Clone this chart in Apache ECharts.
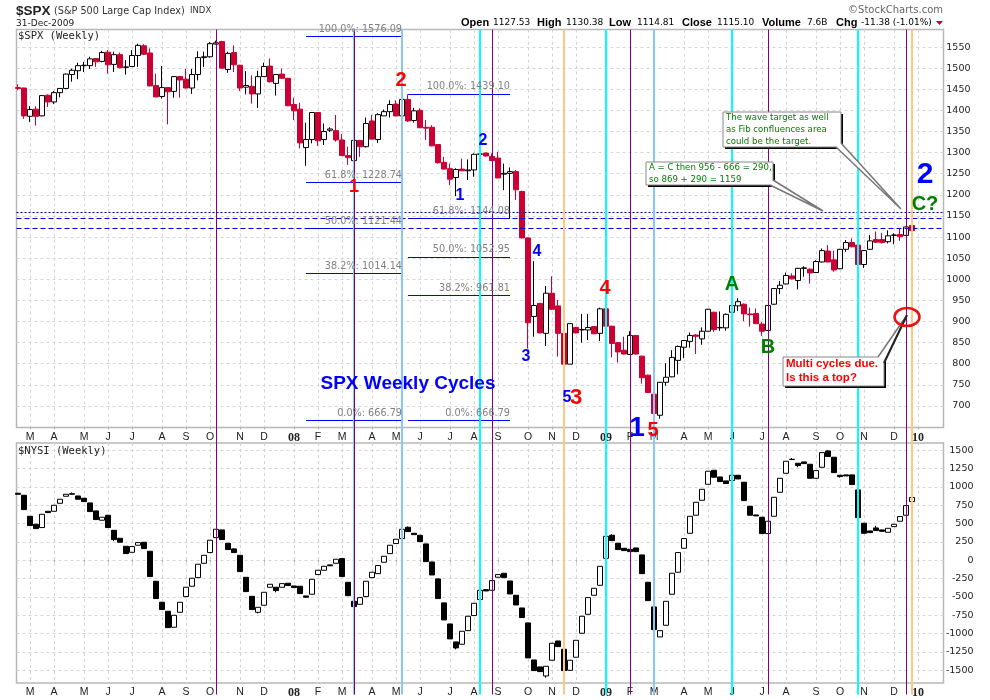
<!DOCTYPE html>
<html>
<head>
<meta charset="utf-8">
<title>$SPX weekly cycles</title>
<script src="https://cdn.jsdelivr.net/npm/echarts@6/dist/echarts.min.js"></script>
<style>
  html, body { margin: 0; padding: 0; background: #fff; }
  #chart { width: 990px; height: 700px; }
</style>
</head>
<body>
<div id="chart"></div>
<script>
// weekly bars, index 0 = Feb 2007, index 149 = 31-Dec-2009
const spxOpen = [
  1454,1453,1386,1403,1387,1436,1420,1442,1452,1485,1494,1506,1506,1523,1516,1538,1509,1532,1502,1504,
  1530,1553,1536,1459,1433,1454,1445,1480,1474,1453,1485,1525,1527,1557,1563,1497,1537,1507,1455,1457,
  1439,1480,1505,1464,1486,1476,1414,1403,1312,1331,1395,1331,1353,1352,1330,1293,1281,1329,1314,1375,
  1331,1387,1397,1415,1387,1426,1376,1400,1360,1360,1319,1277,1262,1241,1261,1257,1259,1296,1299,1291,
  1287,1249,1251,1255,1208,1098,912,943,872,967,937,872,799,886,880,880,888,872,930,889,
  850,832,822,867,818,773,728,678,756,769,808,839,853,868,859,877,922,885,885,922,
  937,941,918,919,894,879,941,978,989,1008,997,1026,1024,1016,1041,1067,1046,1025,1071,1087,
  1081,1035,1071,1094,1094,1089,1104,1106,1104,1127.53
];
const spxClose = [
  1452,1387,1402,1386,1435,1420,1442,1452,1486,1495,1506,1507,1522,1515,1537,1508,1532,1501,1503,1530,
  1554,1533,1458,1432,1454,1444,1480,1472,1453,1485,1525,1527,1558,1560,1500,1535,1508,1453,1459,1439,
  1480,1504,1468,1485,1476,1411,1399,1323,1331,1395,1328,1350,1356,1330,1293,1288,1329,1314,1369,1332,
  1390,1397,1414,1387,1426,1375,1399,1359,1358,1316,1276,1261,1237,1260,1257,1259,1296,1297,1292,1281,
  1240,1251,1255,1212,1098,897,938,873,967,929,872,799,895,873,881,886,871,930,889,848,
  828,823,867,823,767,732,682,756,768,815,841,855,867,865,877,929,881,886,917,938,
  947,918,916,895,877,938,978,986,1009,1001,1026,1027,1015,1042,1068,1041,1022,1071,1087,1077,
  1035,1068,1091,1088,1087,1103,1105,1101,1124,1115.10
];
const spxLow = [
  1448,1380,1373,1364,1386,1408,1415,1431,1451,1468,1474,1491,1498,1503,1514,1487,1491,1500,1485,1503,
  1503,1532,1457,1431,1428,1367,1430,1430,1452,1439,1471,1503,1525,1556,1499,1489,1491,1446,1438,1416,
  1406,1480,1466,1435,1476,1410,1377,1310,1269,1322,1316,1318,1349,1326,1292,1271,1281,1290,1312,1331,
  1323,1387,1383,1386,1386,1373,1371,1358,1330,1315,1274,1260,1223,1197,1256,1235,1243,1295,1291,1280,
  1240,1211,1144,1188,1097,836,864,872,842,928,817,799,799,872,850,856,870,854,888,815,
  803,822,821,822,753,731,681,670,748,768,775,813,838,823,845,876,875,878,878,910,
  925,901,888,894,866,878,940,965,988,1000,976,1006,990,1015,1040,1040,1018,1024,1065,1076,
  1034,1027,1070,1086,1085,1085,1083,1091,1103,1114.81
];
const spxHigh = [
  1462,1454,1410,1410,1436,1438,1446,1452,1487,1499,1513,1515,1527,1524,1541,1543,1539,1537,1519,1543,
  1558,1557,1547,1487,1505,1454,1480,1481,1498,1498,1540,1539,1562,1565,1565,1539,1554,1508,1493,1483,
  1494,1513,1523,1486,1499,1477,1430,1418,1371,1395,1395,1369,1360,1389,1344,1314,1330,1330,1383,1389,
  1393,1402,1424,1424,1427,1438,1406,1405,1377,1365,1320,1290,1274,1263,1286,1284,1298,1298,1300,1298,
  1302,1274,1265,1259,1210,1099,1043,944,984,1007,951,873,895,887,918,918,889,933,933,890,
  851,864,877,868,819,774,729,757,801,832,843,856,874,870,886,930,923,924,919,939,
  955,943,933,931,899,939,979,996,1016,1014,1027,1031,1026,1045,1073,1081,1068,1072,1093,1097,
  1082,1069,1105,1113,1110,1116,1109,1120,1125,1130.38
];

const nysiOpen = [
  914,887,600,491,446,668,668,777,873,900,877,846,782,673,546,614,409,300,191,109,
  205,246,123,-286,-572,-695,-913,-709,-495,-354,-236,-41,105,309,414,232,155,68,-232,-491,
  -709,-613,-368,-368,-368,-313,-350,-354,-486,-463,-195,-136,-63,-41,23,-300,-559,-600,-495,-236,
  -182,-27,91,228,296,450,368,341,223,-23,-254,-581,-868,-1113,-1145,-959,-754,-536,-400,-409,
  -231,-177,-282,-477,-650,-854,-1359,-1454,-1577,-1363,-1100,-1213,-1500,-1322,-995,-736,-477,-341,27,341,
  232,164,150,168,73,-300,-636,-1045,-886,-463,-163,164,368,614,818,1036,1227,1136,1082,1086,
  1159,1064,736,618,587,364,600,927,1186,1373,1323,1341,1309,1118,1268,1491,1405,1159,1164,1164,
  959,505,400,441,414,382,459,532,614,800
];
const nysiClose = [
  900,691,473,432,627,650,750,832,900,909,832,800,664,555,587,446,282,246,91,187,
  241,159,-222,-522,-672,-918,-750,-572,-368,-245,-54,68,273,423,282,146,105,-154,-427,-672,
  -641,-436,-327,-413,-318,-345,-372,-454,-504,-259,-136,-82,-75,14,-222,-482,-632,-509,-286,-163,
  -72,55,205,287,423,391,350,255,-18,-200,-522,-813,-1072,-1195,-968,-763,-586,-409,-418,-277,
  -195,-236,-459,-609,-781,-1331,-1504,-1518,-1445,-1131,-1177,-1504,-1363,-1091,-763,-509,-382,-82,327,268,
  146,132,118,118,-182,-550,-945,-959,-559,-177,105,296,600,791,968,1214,1132,1073,1046,1159,
  1109,814,614,605,364,532,859,1118,1350,1377,1291,1318,1118,1223,1468,1414,1195,1141,1150,1032,
  582,368,377,405,395,436,491,596,746,855
];
// the few NYSI wicks that poke out of the bodies
const nysiWickHigh = { 9: 925, 36: 165, 65: 460, 99: 355, 129: 1395, 135: 1505, 143: 470 };
const nysiWickLow = { 16: 262, 40: -725, 43: -436, 73: -1215, 88: -1600, 130: 1268, 137: 1127 };

const monthTicks = [2,6,11,15,19,24,28,32,37,41,46,50,54,59,63,67,72,76,80,85,89,93,98,102,106,111,115,119,124,128,133,137,141,146,150];
const monthLabels = ['M','A','M','J','J','A','S','O','N','D','08','F','M','A','M','J','J','A','S','O','N','D','09','F','M','A','M','J','J','A','S','O','N','D','10'];
const spxTicks = [700,750,800,850,900,950,1000,1050,1100,1150,1200,1250,1300,1350,1400,1450,1500,1550];
const nysiTicks = [-1500,-1250,-1000,-750,-500,-250,0,250,500,750,1000,1250,1500];

// fib levels: price, percent text
const fibLeftLevels = [[1576.09,'100.0%'],[1228.74,'61.8%'],[1121.44,'50.0%'],[1014.14,'38.2%'],[666.79,'0.0%']];
const fibRightLevels = [[1439.10,'100.0%'],[1144.08,'61.8%'],[1052.95,'50.0%'],[961.81,'38.2%'],[666.79,'0.0%']];
const targetLevels = [1159, 1144, 1121];

// cycle dates (week index)
const blueCycles = [56, 64, 106];
const cyanCycles = [77, 98, 119, 140];
const purpleCycles = [33, 56, 79, 102, 125, 148];
const orangeCycles = [91, 149];

const MONO = '"DejaVu Sans Mono", monospace';
const SANS = '"DejaVu Sans", sans-serif';
const ARIAL = '"Liberation Sans", Arial, sans-serif';
const X_MIN = -0.25;
const X_MAX = 154.25;

const bars = spxOpen.map((o, i) => [i, o, spxClose[i], spxLow[i], spxHigh[i]]);
const nysiBars = nysiOpen.map((o, i) => {
  const c = nysiClose[i];
  const lo = i in nysiWickLow ? nysiWickLow[i] : Math.min(o, c);
  const hi = i in nysiWickHigh ? nysiWickHigh[i] : Math.max(o, c);
  return [i, o, c, lo, hi];
});

function fibSegments(levels, from, to) {
  return levels.map(l => [
    { name: l[1] + ': ' + l[0].toFixed(2), coord: [from, l[0]] },
    { coord: [to, l[0]] }
  ]);
}

function cycleLines(list, color, width) {
  return list.map(i => ({ xAxis: i, lineStyle: { color: color, width: width, type: 'solid' } }));
}

function xAxisFor(gridIndex) {
  return {
    type: 'value', gridIndex: gridIndex, min: X_MIN, max: X_MAX,
    axisLine: { show: false },
    axisTick: { show: true, length: 2, lineStyle: { color: '#aaa' }, customValues: monthTicks },
    splitLine: { show: true, lineStyle: { color: '#d4d4d4', type: [3, 3] } },
    axisLabel: {
      customValues: monthTicks, margin: 4, fontFamily: ARIAL, fontSize: 10.5, color: '#222',
      formatter: v => {
        const t = monthLabels[monthTicks.indexOf(v)];
        return /\d/.test(t) ? '{y|' + t + '}' : t;
      },
      rich: { y: { fontFamily: '"Liberation Serif", serif', fontWeight: 'bold', fontSize: 12, color: '#222' } }
    }
  };
}

function yAxisFor(gridIndex, min, max, ticks, margin) {
  return {
    type: 'value', gridIndex: gridIndex, position: 'right', min: min, max: max,
    axisLine: { show: false },
    axisTick: { show: false, customValues: ticks },
    splitLine: { show: true, lineStyle: { color: '#d4d4d4', type: [3, 3] } },
    axisLabel: { customValues: ticks, align: 'right', margin: margin, fontFamily: SANS, fontSize: 9.5, color: '#222', formatter: v => String(v) }
  };
}

// header and annotation text
function txt(x, y, text, font, size, color, extra) {
  return {
    type: 'text', x: x, y: y, z: 100,
    style: Object.assign({ text: text, fontFamily: font, fontSize: size, fill: color, textVerticalAlign: 'middle' }, extra || {})
  };
}
function bold(x, y, text, size, color) {
  return txt(x, y, text, ARIAL, size, color, { fontWeight: 'bold', textAlign: 'center' });
}
function callout(box, tip, lines, font, size, color, weight) {
  const [l, t, r, b] = box;
  const els = [
    { type: 'rect', z: 90, shape: { x: l + 2, y: t + 2, width: r - l, height: b - t }, style: { fill: '#000' } },
    { type: 'rect', z: 91, shape: { x: l, y: t, width: r - l, height: b - t }, style: { fill: '#fff', stroke: '#888', lineWidth: 1 } },
    { type: 'polygon', z: 92, shape: { points: tip }, style: { fill: '#fff' } },
    { type: 'polyline', z: 93, shape: { points: tip }, style: { stroke: '#777', lineWidth: 1.5, fill: 'none' } }
  ];
  lines.forEach(ln => els.push(txt(l + 3, ln[0], ln[1], font, size, color, { fontWeight: weight })));
  return els;
}

const option = {
  animation: false,
  backgroundColor: '#fff',
  grid: [
    { left: 16.5, width: 927, top: 29.5, height: 398, show: true, borderColor: '#b8b8b8', borderWidth: 1.5, backgroundColor: 'transparent' },
    { left: 16.5, width: 927, top: 443, height: 240, show: true, borderColor: '#b8b8b8', borderWidth: 1.5, backgroundColor: 'transparent' },
    { left: 16.5, width: 927, top: 29.5, height: 665, show: false }
  ],
  xAxis: [
    xAxisFor(0),
    xAxisFor(1),
    { type: 'value', gridIndex: 2, min: X_MIN, max: X_MAX, show: false }
  ],
  yAxis: [
    yAxisFor(0, 649, 1591.6, spxTicks, 27),
    yAxisFor(1, -1673, 1599, nysiTicks, 30),
    { type: 'value', gridIndex: 2, min: 0, max: 1, show: false }
  ],
  series: [
    {
      name: 'Fib levels', type: 'line', xAxisIndex: 0, yAxisIndex: 0, data: [], silent: true, z: 1,
      markLine: {
        silent: true, symbol: 'none', animation: false,
        lineStyle: { color: '#0000ff', width: 1.2, type: 'solid' },
        label: { show: true, formatter: '{b}', position: 'insideEndTop', distance: [0, 2], color: '#808080', fontFamily: SANS, fontSize: 9.7 },
        data: fibSegments(fibLeftLevels, 48, 64).concat(fibSegments(fibRightLevels, 65, 82))
      }
    },
    {
      name: 'Target levels', type: 'line', xAxisIndex: 0, yAxisIndex: 0, data: [], silent: true, z: 1,
      markLine: {
        silent: true, symbol: 'none', animation: false, label: { show: false },
        data: [
          { yAxis: targetLevels[0], lineStyle: { color: '#000080', width: 1, type: [2, 2] } },
          { yAxis: targetLevels[1], lineStyle: { color: '#0000cc', width: 1, type: [5, 3] } },
          { yAxis: targetLevels[2], lineStyle: { color: '#0000cc', width: 1, type: [5, 3] } }
        ]
      }
    },
    {
      name: '$SPX', type: 'candlestick', xAxisIndex: 0, yAxisIndex: 0, barWidth: 5, z: 2,
      encode: { x: 0, y: [1, 2, 3, 4] },
      itemStyle: { color: '#fff', color0: '#cc0033', borderColor: '#000', borderColor0: '#cc0033', borderColorDoji: '#000', borderWidth: 1 },
      data: bars
    },
    {
      name: '$NYSI', type: 'candlestick', xAxisIndex: 1, yAxisIndex: 1, barWidth: 5, z: 2,
      encode: { x: 0, y: [1, 2, 3, 4] },
      itemStyle: { color: '#fff', color0: '#000', borderColor: '#000', borderColor0: '#000', borderColorDoji: '#000', borderWidth: 1 },
      data: nysiBars
    },
    {
      name: 'Cycles', type: 'line', xAxisIndex: 2, yAxisIndex: 2, data: [], silent: true, z: 5,
      markLine: {
        silent: true, symbol: 'none', animation: false, label: { show: false },
        data: [].concat(
          cycleLines(blueCycles, '#88c6f8', 2),
          cycleLines(cyanCycles, '#00ffff', 2),
          cycleLines(orangeCycles, '#ffc880', 2),
          cycleLines(purpleCycles, '#800080', 1)
        )
      }
    }
  ],
  graphic: { elements: [
    txt(16, 11, '$SPX', ARIAL, 13.5, '#222', { fontWeight: 'bold' }),
    txt(54, 11, '(S&P 500 Large Cap Index)', SANS, 9.7, '#333'),
    txt(190, 11, 'INDX', SANS, 8.5, '#333'),
    txt(16, 24, '31-Dec-2009', SANS, 9, '#222'),
    txt(461, 23, 'Open', ARIAL, 11, '#000', { fontWeight: 'bold' }),
    txt(493, 23, '1127.53', SANS, 9, '#000'),
    txt(537, 23, 'High', ARIAL, 11, '#000', { fontWeight: 'bold' }),
    txt(566, 23, '1130.38', SANS, 9, '#000'),
    txt(609, 23, 'Low', ARIAL, 11, '#000', { fontWeight: 'bold' }),
    txt(637, 23, '1114.81', SANS, 9, '#000'),
    txt(682, 23, 'Close', ARIAL, 11, '#000', { fontWeight: 'bold' }),
    txt(717, 23, '1115.10', SANS, 9, '#000'),
    txt(762, 23, 'Volume', ARIAL, 11, '#000', { fontWeight: 'bold' }),
    txt(807, 23, '7.6B', SANS, 9, '#000'),
    txt(836, 23, 'Chg', ARIAL, 11, '#000', { fontWeight: 'bold' }),
    txt(861, 23, '-11.38 (-1.01%)', SANS, 9, '#000'),
    { type: 'polygon', z: 100, shape: { points: [[936, 21], [943, 21], [939.5, 25]] }, style: { fill: '#cc0033' } },
    txt(943, 10, '\u00a9StockCharts.com', SANS, 10, '#666', { textAlign: 'right' }),
    txt(18, 36, '$SPX (Weekly)', MONO, 10.5, '#222'),
    txt(18, 451, '$NYSI (Weekly)', MONO, 10.5, '#222'),

    bold(401, 80, '2', 20, '#ff0000'),
    bold(354, 187, '1', 18, '#ff0000'),
    bold(483, 141, '2', 16, '#0000ff'),
    bold(460, 196, '1', 16, '#0000ff'),
    bold(537, 252, '4', 16, '#0000ff'),
    bold(526, 357, '3', 16, '#0000ff'),
    bold(605, 288, '4', 20, '#ff0000'),
    bold(567, 398, '5', 16, '#0000ff'),
    bold(576, 398, '3', 22, '#ff0000'),
    bold(637, 428, '1', 28, '#0000ff'),
    bold(653, 430, '5', 20, '#ff0000'),
    bold(732, 284, 'A', 20, '#008000'),
    bold(768, 347, 'B', 20, '#008000'),
    bold(925, 175, '2', 30, '#0000ff'),
    bold(925, 204, 'C?', 20, '#008000'),
    bold(408, 384, 'SPX Weekly Cycles', 19, '#0000ff'),

    ...callout([723, 112, 841, 147], [[836, 147], [901, 209], [841, 143]],
      [[118, 'The wave target as well'], [130, 'as Fib confluences area'], [142, 'could be the target.']], SANS, 8.6, '#008000'),
    ...callout([646, 162, 773, 185], [[770, 185], [823, 211], [773, 180]],
      [[168, 'A = C then 956 - 666 = 290,'], [180, 'so 869 + 290 = 1159']], SANS, 8.6, '#008000'),
    ...callout([783, 357, 884, 386], [[878, 357], [907, 315], [884, 363]],
      [[364, 'Multi cycles due.'], [378, 'Is this a top?']], ARIAL, 11.5, '#ff0000', 'bold'),
    { type: 'polyline', z: 93, shape: { points: [[907, 315], [884, 363]] }, style: { stroke: '#222', lineWidth: 2, fill: 'none' } },
    { type: 'ellipse', z: 94, shape: { cx: 907, cy: 317, rx: 12.5, ry: 9 }, style: { fill: 'none', stroke: '#e81010', lineWidth: 2.5 } }
  ] }
};

const chart = echarts.init(document.getElementById('chart'));
chart.setOption(option);
window.addEventListener('resize', () => chart.resize());
</script>
</body>
</html>
